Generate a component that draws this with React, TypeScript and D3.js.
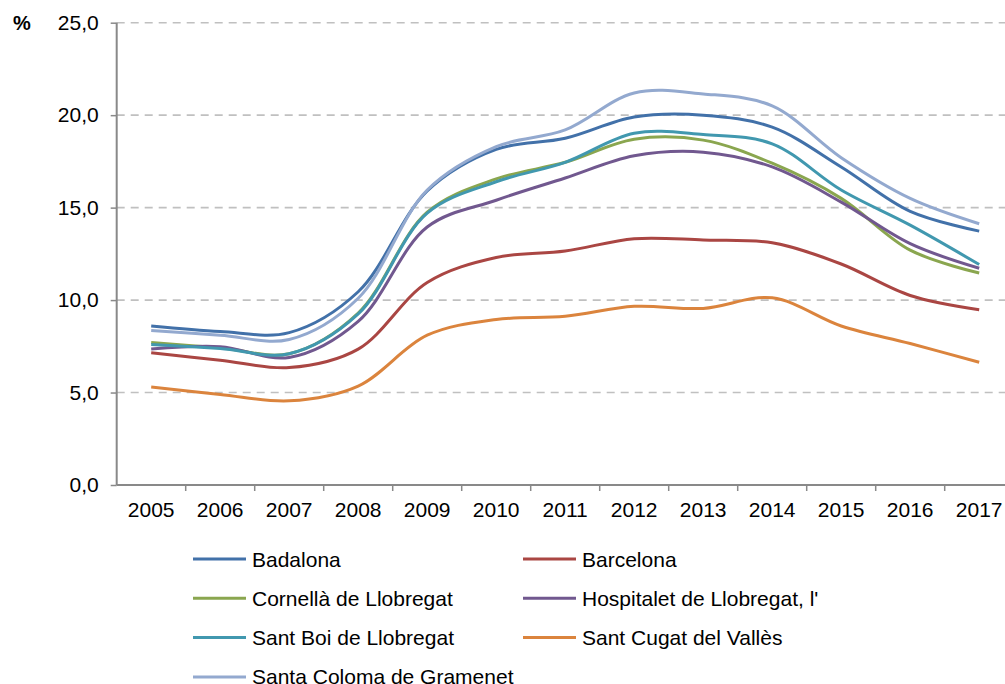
import React, { useEffect, useRef } from 'react';
import * as d3 from 'd3';

const years = ['2005', '2006', '2007', '2008', '2009', '2010', '2011', '2012', '2013', '2014', '2015', '2016', '2017'];

const badalona = [8.6, 8.3, 8.24, 10.45, 15.9, 18.15, 18.75, 19.9, 20.0, 19.35, 17.2, 14.8, 13.73];
const barcelona = [7.15, 6.75, 6.35, 7.35, 10.95, 12.3, 12.65, 13.32, 13.25, 13.1, 11.95, 10.25, 9.48];
const cornella = [7.7, 7.42, 7.1, 9.3, 14.75, 16.55, 17.45, 18.7, 18.65, 17.4, 15.5, 12.7, 11.46];
const hospitalet = [7.35, 7.48, 6.9, 8.85, 13.95, 15.4, 16.6, 17.8, 18.0, 17.2, 15.3, 13.05, 11.72];
const santBoi = [7.6, 7.38, 7.1, 9.25, 14.7, 16.4, 17.45, 19.02, 18.95, 18.45, 15.95, 14.05, 11.92];
const santCugat = [5.3, 4.9, 4.55, 5.35, 8.1, 8.95, 9.12, 9.66, 9.55, 10.12, 8.6, 7.65, 6.64];
const santaColoma = [8.35, 8.1, 7.87, 10.1, 15.95, 18.3, 19.2, 21.2, 21.15, 20.5, 17.7, 15.5, 14.13];

const yTicks = [0, 5, 10, 15, 20, 25];

const series = [
  { name: 'Badalona', values: badalona, color: '#4271A9' },
  { name: 'Barcelona', values: barcelona, color: '#AA4643' },
  { name: 'Cornellà de Llobregat', values: cornella, color: '#8AA64F' },
  { name: "Hospitalet de Llobregat, l'", values: hospitalet, color: '#71588F' },
  { name: 'Sant Boi de Llobregat', values: santBoi, color: '#4198AF' },
  { name: 'Sant Cugat del Vallès', values: santCugat, color: '#DB843D' },
  { name: 'Santa Coloma de Gramenet', values: santaColoma, color: '#93A9CF' },
];

const App = () => {
  const svgRef = useRef<SVGSVGElement>(null);

  useEffect(() => {
    const svg = d3.select(svgRef.current);
    svg.selectAll('*').remove();

    const left = 116.7;
    const top = 22.7;
    const bottom = 485;
    const band = 69;
    const font = '"Liberation Sans", Arial, sans-serif';

    const x = d3.scaleBand().domain(years).range([left, left + band * years.length]);
    const y = d3.scaleLinear().domain([0, 25]).range([bottom, top]);

    // gridlines
    svg.append('g')
      .selectAll('line')
      .data(yTicks.filter(t => t > 0))
      .enter()
      .append('line')
      .attr('x1', left)
      .attr('x2', 1005)
      .attr('y1', d => y(d))
      .attr('y2', d => y(d))
      .attr('stroke', '#C0C0C0')
      .attr('stroke-width', 1.6)
      .attr('stroke-dasharray', '8,6');

    // y axis
    const yAxis = svg.append('g')
      .attr('transform', `translate(${left},0)`)
      .call(d3.axisLeft(y).tickValues(yTicks).tickSize(6).tickPadding(12)
        .tickFormat(d => d3.format('.1f')(d as number).replace('.', ',')));
    yAxis.select('.domain').remove();
    yAxis.selectAll('line').attr('stroke', '#898989').attr('stroke-width', 1.5);
    yAxis.selectAll('text').attr('font-family', font).attr('font-size', 21).attr('fill', '#000');
    svg.append('line')
      .attr('x1', left).attr('x2', left)
      .attr('y1', top).attr('y2', bottom)
      .attr('stroke', '#898989').attr('stroke-width', 2);

    // x axis
    svg.append('line')
      .attr('x1', left).attr('x2', 1005)
      .attr('y1', bottom).attr('y2', bottom)
      .attr('stroke', '#898989').attr('stroke-width', 2);
    svg.append('g')
      .selectAll('line')
      .data(years)
      .enter()
      .append('line')
      .attr('x1', d => (x(d) as number) + band)
      .attr('x2', d => (x(d) as number) + band)
      .attr('y1', bottom)
      .attr('y2', bottom + 6)
      .attr('stroke', '#898989')
      .attr('stroke-width', 1.5);
    svg.append('g')
      .selectAll('text')
      .data(years)
      .enter()
      .append('text')
      .attr('x', d => (x(d) as number) + band / 2)
      .attr('y', 517)
      .attr('text-anchor', 'middle')
      .attr('font-family', font)
      .attr('font-size', 21)
      .text(d => d);

    // unit label
    svg.append('text')
      .attr('x', 13)
      .attr('y', 29.5)
      .attr('font-family', font)
      .attr('font-size', 20)
      .attr('font-weight', 'bold')
      .text('%');

    // lines
    const line = d3.line<number>()
      .x((d, i) => (x(years[i]) as number) + band / 2)
      .y(d => y(d))
      .curve(d3.curveCatmullRom.alpha(0.5));

    svg.append('g')
      .selectAll('path')
      .data(series)
      .enter()
      .append('path')
      .attr('d', d => line(d.values))
      .attr('fill', 'none')
      .attr('stroke', d => d.color)
      .attr('stroke-width', 3);

    // legend (last row is cut by the bottom edge, as in the source)
    const legend = svg.append('g')
      .selectAll('g')
      .data(series)
      .enter()
      .append('g')
      .attr('transform', (d, i) => `translate(${i % 2 === 0 ? 193 : 523},${559 + Math.floor(i / 2) * 39.3})`);
    legend.append('line')
      .attr('x1', 0).attr('x2', 53)
      .attr('stroke', d => d.color)
      .attr('stroke-width', 3);
    legend.append('text')
      .attr('x', 59)
      .attr('y', 7.5)
      .attr('font-family', font)
      .attr('font-size', 21)
      .text(d => d.name);
  }, []);

  return (
    <svg ref={svgRef} width={1005} height={684}
      style={{ position: 'absolute', left: 0, top: 0, background: '#fff' }}></svg>
  );
};

export default App;
